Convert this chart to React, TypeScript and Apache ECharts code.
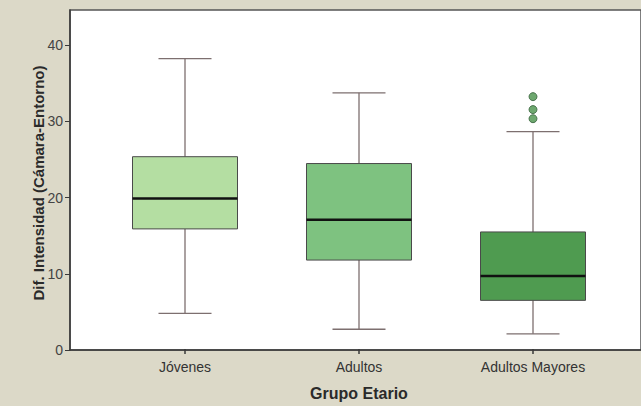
import React, { useEffect, useRef } from "react";
import * as echarts from "echarts";

const categories = ["Jóvenes", "Adultos", "Adultos Mayores"];
const whiskerLow = [4.7, 2.6, 2.0];
const q1 = [15.8, 11.7, 6.4];
const median = [19.8, 17.0, 9.6];
const q3 = [25.3, 24.4, 15.4];
const whiskerHigh = [38.2, 33.7, 28.6];
const outlierGroup = [2, 2, 2];
const outlierValues = [33.2, 31.5, 30.3];
const yTicks = [0, 10, 20, 30, 40];

const boxColors = ["#b4dea2", "#7ec280", "#4f9b50"];
const FONT = "Liberation Sans, Arial, sans-serif";

export default function App() {
  const ref = useRef<HTMLDivElement>(null);
  useEffect(() => {
    document.body.style.margin = "0";
    const chart = echarts.init(ref.current!, null, { renderer: "svg" });
    const boxData = categories.map((c, i) => [i, whiskerLow[i], q1[i], median[i], q3[i], whiskerHigh[i]]);
    const outData = outlierGroup.map((g, i) => [g, outlierValues[i]]);
    const yMax = 44.6;
    chart.setOption({
      animation: false,
      backgroundColor: "#dcd9c8",
      grid: [
        { left: 70, right: 0, top: 10, bottom: 56, show: true, backgroundColor: "#ffffff", borderColor: "#555555", borderWidth: 1.5 },
        { left: 98, width: 522, top: 10, bottom: 56 },
      ],
      graphic: [
        {
          type: "text", x: 38, y: 183, rotation: Math.PI / 2,
          style: { text: "Dif. Intensidad (Cámara-Entorno)", fill: "#2a2a2a", fontSize: 15, fontWeight: "bold", fontFamily: FONT, align: "center", verticalAlign: "middle" },
        },
      ],
      xAxis: [
        { type: "value", gridIndex: 0, min: 0, max: 1, axisLine: { show: true, lineStyle: { color: "#3a3a3a", width: 1.5 } }, axisTick: { show: false }, axisLabel: { show: false }, splitLine: { show: false } },
        {
          type: "category", gridIndex: 1, data: categories,
          axisLine: { show: false },
          axisTick: { show: true, alignWithLabel: true, length: 5, lineStyle: { color: "#3a3a3a", width: 1.5 } },
          axisLabel: { color: "#333333", fontSize: 14, fontFamily: FONT, margin: 11 },
          name: "Grupo Etario", nameLocation: "middle", nameGap: 36,
          nameTextStyle: { color: "#2a2a2a", fontSize: 16, fontWeight: "bold", fontFamily: FONT },
        },
      ],
      yAxis: [
        {
          type: "value", gridIndex: 0, min: 0, max: yMax, interval: 10,
          axisLine: { show: true, lineStyle: { color: "#3a3a3a", width: 1.5 } },
          axisTick: { show: true, length: 5, customValues: yTicks, lineStyle: { color: "#3a3a3a" } },
          axisLabel: { color: "#444444", fontSize: 14, fontFamily: FONT, margin: 7, customValues: yTicks },
          splitLine: { show: false },
        },
        { type: "value", gridIndex: 1, min: 0, max: yMax, show: false, splitLine: { show: false } },
      ],
      series: [
        {
          type: "custom", xAxisIndex: 1, yAxisIndex: 1, data: boxData,
          renderItem: (params: any, api: any) => {
            const i = api.value(0);
            const lo = api.coord([i, api.value(1)]);
            const a = api.coord([i, api.value(2)]);
            const m = api.coord([i, api.value(3)]);
            const b = api.coord([i, api.value(4)]);
            const hi = api.coord([i, api.value(5)]);
            const x = lo[0];
            const bw = 105, cw = 53;
            const wStyle = { stroke: "#7d6f6f", lineWidth: 1.3 };
            return {
              type: "group",
              children: [
                { type: "line", shape: { x1: x, y1: hi[1], x2: x, y2: b[1] }, style: wStyle },
                { type: "line", shape: { x1: x, y1: a[1], x2: x, y2: lo[1] }, style: wStyle },
                { type: "line", shape: { x1: x - cw / 2, y1: hi[1], x2: x + cw / 2, y2: hi[1] }, style: wStyle },
                { type: "line", shape: { x1: x - cw / 2, y1: lo[1], x2: x + cw / 2, y2: lo[1] }, style: wStyle },
                { type: "rect", shape: { x: x - bw / 2, y: b[1], width: bw, height: a[1] - b[1] }, style: { fill: boxColors[i], stroke: "#4a4a4a", lineWidth: 1 } },
                { type: "line", shape: { x1: x - bw / 2, y1: m[1], x2: x + bw / 2, y2: m[1] }, style: { stroke: "#111111", lineWidth: 2.5 } },
              ],
            };
          },
        },
        {
          type: "scatter", xAxisIndex: 1, yAxisIndex: 1, data: outData, symbol: "circle", symbolSize: 8,
          itemStyle: { color: "#4a924b", borderColor: "#35603a", borderWidth: 1 },
        },
      ],
    });
    return () => chart.dispose();
  }, []);
  return <div ref={ref} style={{ width: 641, height: 406 }} />;
}
